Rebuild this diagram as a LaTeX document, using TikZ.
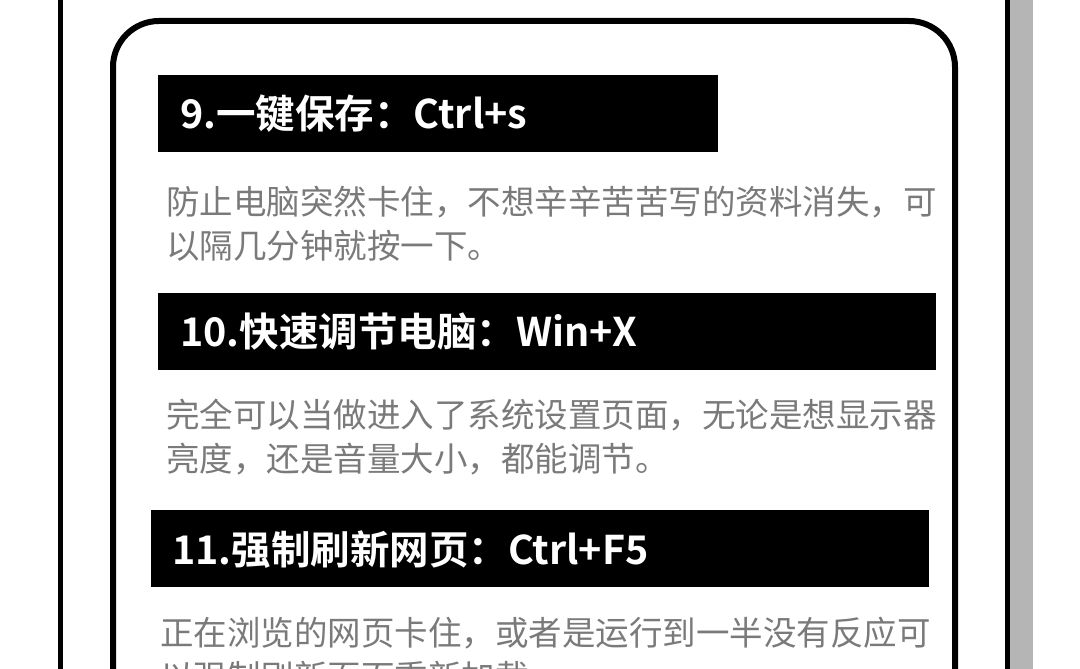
\documentclass[tikz,border=0pt]{standalone}
\usepackage{fontspec}
\newfontfamily\cjk{Noto Sans CJK SC}
\newfontfamily\cjkb{Noto Sans CJK SC Bold}
\definecolor{bodygray}{HTML}{7A7A7A}
\definecolor{shadow}{HTML}{B5B5B5}
\begin{document}
\begin{tikzpicture}[x=1pt,y=-1pt,
  bar/.style={fill=black,draw=none},
  title/.style={anchor=west,text=white,font=\cjkb\fontsize{39.5}{42}\selectfont,inner sep=0},
  body/.style={anchor=north west,text=bodygray,font=\cjk\fontsize{33.5}{44}\selectfont,inner sep=0,align=left}]
\useasboundingbox (0,0) rectangle (1080,669);
\begin{scope}
\clip (0,0) rectangle (1080,669);
\fill[shadow] (1010,-5) rectangle (1033,680);
\draw[line width=5pt] (60,-5) -- (60,680);
\draw[line width=5pt] (1007,-5) -- (1007,680);
\draw[line width=6pt,rounded corners=46pt] (113,700) -- (113,21) -- (955,21) -- (955,700);
\fill[bar] (158,75) rectangle (718,152);
\node[title] (t9) at (180,114) {9.一键保存：Ctrl+s};
\node[body] (b9) at (166,186) {防止电脑突然卡住，不想辛辛苦苦写的资料消失，可\\以隔几分钟就按一下。};
\fill[bar] (158,293) rectangle (936,370);
\node[title] (t10) at (180,332) {10.快速调节电脑：Win+X};
\node[body] (b10) at (166,399) {完全可以当做进入了系统设置页面，无论是想显示器\\亮度，还是音量大小，都能调节。};
\fill[bar] (151,510) rectangle (929,587);
\node[title] (t11) at (172,550) {11.强制刷新网页：Ctrl+F5};
\node[body] (b11) at (160,617) {正在浏览的网页卡住，或者是运行到一半没有反应可\\以强制刷新页面重新加载。};
\end{scope}
\end{tikzpicture}
\end{document}
